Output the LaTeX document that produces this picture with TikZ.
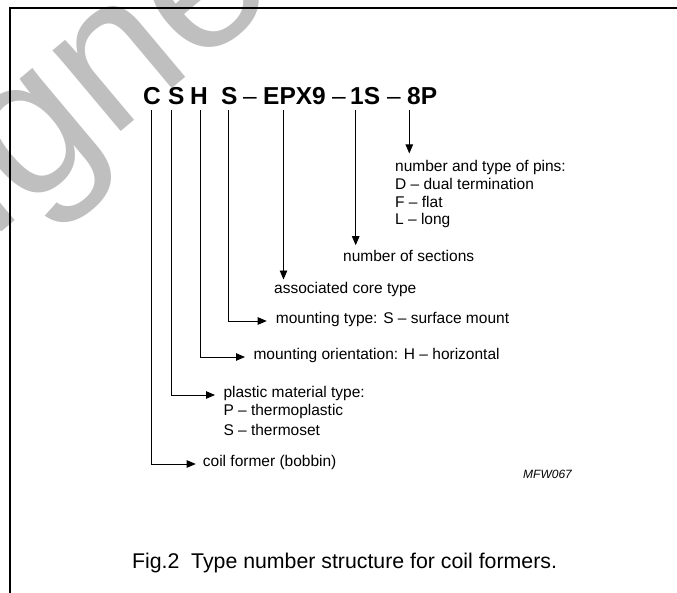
\documentclass[tikz,border=0pt]{standalone}
\usepackage{fontspec}
\setmainfont{Liberation Sans}
\usetikzlibrary{arrows.meta}
\newcommand{\lblfont}{\fontsize{15.5}{17.7}\selectfont}
\newcommand{\codefont}{\fontsize{24.5}{28}\selectfont\bfseries}
\tikzset{
  code/.style={inner sep=0pt, anchor=base west, font=\codefont},
  dashsym/.style={inner sep=0pt, anchor=base west, font=\fontsize{24.5}{28}\selectfont},
  lbl/.style={inner sep=0pt, anchor=mid west, font=\lblfont},
  ptr/.style={line width=0.8pt, -{Triangle[length=9pt,width=7.5pt]}, shorten <=5pt},
}
\begin{document}
\begin{tikzpicture}[x=1pt,y=-1pt]
\useasboundingbox (0,0) rectangle (677,593);
% watermark
\begin{scope}
\clip (0,0) rectangle (677,593);
\node[rotate=40, anchor=base west, inner sep=0pt, text=gray!50, font=\fontsize{200}{200}\selectfont] (wm) at (-8.7,241) {igned};
\end{scope}
\draw[line width=1.5pt] (10,593) -- (10,8) -- (677,8);
% type number
\node[code] (c1) at (143,105) {C};
\node[code] (s1) at (168,105) {S};
\node[code] (h1) at (190,105) {H};
\node[code] (s2) at (221,105) {S};
\node[dashsym] (d1) at (243,105) {--};
\node[code] (core) at (263,105) {EPX9};
\node[dashsym] (d2) at (332,105) {--};
\node[code] (sect) at (350,105) {1S};
\node[dashsym] (d3) at (387,105) {--};
\node[code] (pins) at (407,105) {8P};
\foreach \n/\dx in {c1/8.7, s1/3, h1/10, s2/7, core/20.5, sect/5.7, pins/2.3}
  \coordinate (\n-f) at ([xshift=\dx pt]\n.south west);
% labels
\node[lbl] (pinlbl) at (395,169) {\begin{tabular}[t]{@{}l@{}}number and type of pins:\\D -- dual termination\\F -- flat\\L -- long\end{tabular}};
\node[lbl] (sectlbl) at (343,258.7) {number of sections};
\node[lbl] (corelbl) at (274,290.5) {associated core type};
\node[lbl] (mount) at (275.7,321) {mounting type: S -- surface mount};
\node[lbl] (orient) at (253.3,357) {mounting orientation: H -- horizontal};
\node[lbl] (plastic) at (223.3,395) {\begin{tabular}[t]{@{}l@{}}plastic material type:\\P -- thermoplastic\\[2.3pt]S -- thermoset\end{tabular}};
\node[lbl] (coil) at (202.7,464) {coil former (bobbin)};
\node[inner sep=0pt, anchor=base west, font=\fontsize{12}{14}\selectfont\itshape] (mfw) at (523,478) {MFW067};
\node[inner sep=0pt, anchor=base, font=\fontsize{21.3}{25}\selectfont] (cap) at (344.5,568) {Fig.2\ \ Type number structure for coil formers.};
% pointers
\draw[ptr, shorten >=5.6pt] (pins-f) -- (pins-f |- pinlbl.north);
\draw[ptr, shorten >=4.7pt] (sect-f) -- (sect-f |- sectlbl.north);
\draw[ptr, shorten >=2.2pt] (core-f) -- (core-f |- corelbl.north);
\draw[ptr, shorten >=9pt] (s2-f) |- (mount.mid west);
\draw[ptr, shorten >=8.3pt] (h1-f) |- (orient.mid west);
\draw[ptr, shorten >=8.3pt] (s1-f) |- (plastic.mid west);
\draw[ptr, shorten >=7pt] (c1-f) |- (coil.mid west);
\end{tikzpicture}
\end{document}
